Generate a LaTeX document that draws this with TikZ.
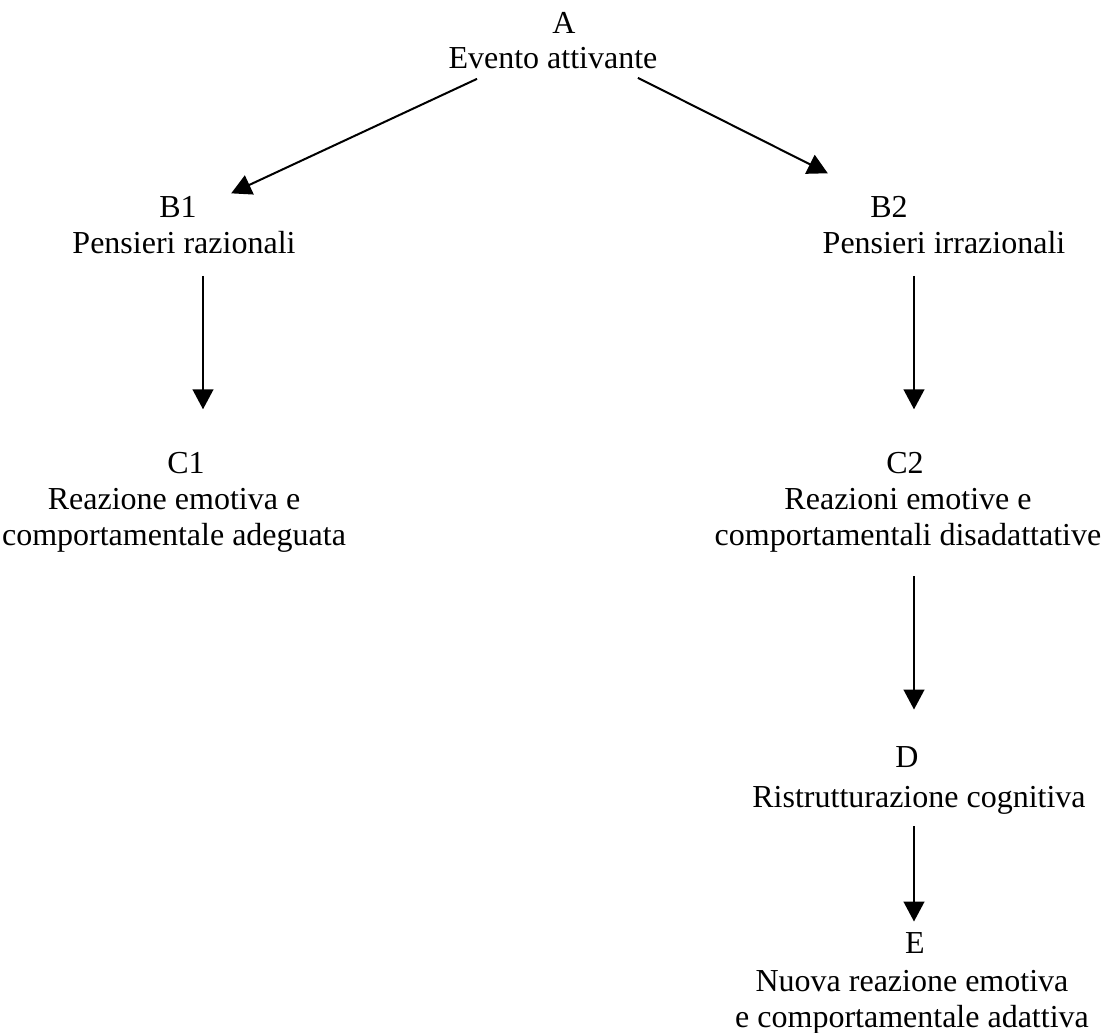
\documentclass[tikz,border=0pt]{standalone}
\usepackage{fontspec}
\setmainfont{Liberation Serif}
\usetikzlibrary{arrows.meta, calc}

\begin{document}
\begin{tikzpicture}[
        x=0.375pt, y=-0.375pt,
        every node/.style={align=center, inner sep=0pt, anchor=base,
                           font=\fontsize{12pt}{13.5pt}\selectfont},
        link/.style={-{Triangle[length=7.5pt, width=7.8pt]}, line width=0.75pt}
    ]
        \useasboundingbox (0,0) rectangle (1102,1033);

        % Place nodes with explicit coordinates (pixel grid of the page)
        % (two-line texts sit on the baseline of their last line)
        \node (A) at (564,33) {A};
        \node (Atext) at (553,68) {Evento attivante};
        \node (B1) at (178,217) {B1};
        \node (B1text) at (184,253) {Pensieri razionali};
        \node (B2) at (889,217) {B2};
        \node (B2text) at (944,253) {Pensieri irrazionali};
        \node (C1) at (186,473) {C1};
        \node (C1text) at (174,545) {Reazione emotiva e\\comportamentale adeguata};
        \node (C2) at (905,473) {C2};
        \node (C2text) at (908,545) {Reazioni emotive e\\comportamentali disadattative};
        \node (D) at (907,767) {D};
        \node (Dtext) at (919,807) {Ristrutturazione cognitiva};
        \node (E) at (915,953) {E};
        \node (Etext) at (912,1027) {Nuova reazione emotiva\\e comportamentale adattiva};

        % A -> B1 / B2 (diagonal)
        \draw[link] ([shift={(29,10)}]Atext.south west) -- ([shift={(34,-2)}]B1.north east);
        \draw[link] ([shift={(-20,9)}]Atext.south east) -- ([shift={(-42,-22)}]B2.north west);

        % B -> C (vertical)
        \draw[link] ([shift={(19,22)}]B1text.south) -- ([shift={(17,-42)}]C1.north);
        \draw[link] ([shift={(-30,22)}]B2text.south) -- ([shift={(9,-42)}]C2.north);

        % C2 -> D -> E (vertical)
        \draw[link] ([shift={(6,24)}]C2text.south) -- ([shift={(7,-36)}]D.north);
        \draw[link] ([shift={(-5,12)}]Dtext.south) -- ([shift={(-1,-10)}]E.north);
    \end{tikzpicture}
\end{document}
